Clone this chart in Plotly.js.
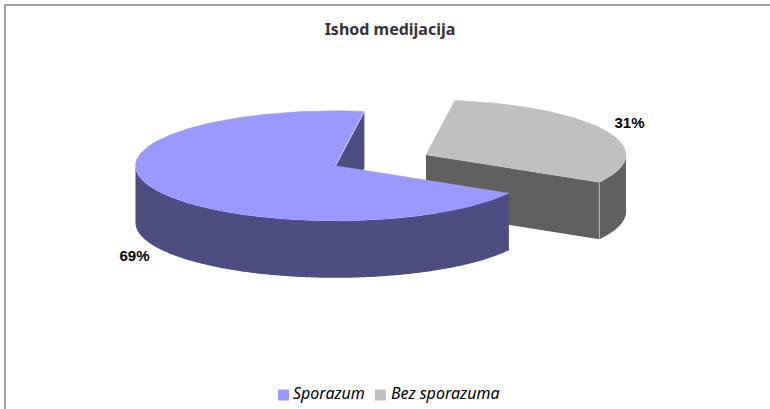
<!DOCTYPE html>
<html>
<head>
<meta charset="utf-8">
<script src="https://cdn.plot.ly/plotly-3.0.1.min.js"></script>
<style>html,body{margin:0;padding:0;background:#fff;}#chart{width:770px;height:409px;}</style>
</head>
<body>
<div id="chart"></div>
<script>
var categories = ['Sporazum', 'Bez sporazuma'];
var shares = [69, 31];
var labelTexts = ['69%', '31%'];
var topColors = ['#9999ff', '#c0c0c0'];
var sideColors = ['#4d4d80', '#606060'];

// 3-D look: projection constants of the exploded pie, in pixels
var RX = 200, RY = 55, DEPTH = 57, START = 8.3;
var centers = [[335.5, 165.8], [426, 154.8]];

var total = shares[0] + shares[1];
var gap = 360 * shares[1] / total;   // sweep of second slice
var angleB0 = START, angleB1 = START + gap;       // grey slice, clockwise from top
var angleA0 = angleB1, angleA1 = START + 360;     // violet slice

function pt(c, deg, dz) {
  var r = deg * Math.PI / 180;
  return [c[0] + RX * Math.sin(r), c[1] - RY * Math.cos(r) + (dz || 0)];
}
function arc(c, a0, a1, dz) {
  var out = [], n = Math.max(2, Math.ceil(Math.abs(a1 - a0)));
  for (var i = 0; i <= n; i++) out.push(pt(c, a0 + (a1 - a0) * i / n, dz));
  return out;
}
function poly(points, color, lineColor, lw) {
  var closed = points.concat([points[0]]);
  return {
    type: 'scatter', mode: lineColor ? 'lines' : 'none',
    x: closed.map(function (p) { return p[0]; }),
    y: closed.map(function (p) { return p[1]; }),
    fill: 'toself', fillcolor: color,
    line: { color: lineColor || color, width: lw || 0 },
    hoverinfo: 'skip', showlegend: false
  };
}
function seg(a, b, color) {
  return {
    type: 'scatter', mode: 'lines', x: [a[0], b[0]], y: [a[1], b[1]],
    line: { color: color, width: 0.7 }, hoverinfo: 'skip', showlegend: false
  };
}
function below(p) { return [p[0], p[1] + DEPTH]; }

var traces = [];
// grey slice
var cB = centers[1];
traces.push(poly([cB, pt(cB, angleB1), below(pt(cB, angleB1)), below(cB)], sideColors[1]));
traces.push(poly(arc(cB, 90, angleB1).concat(arc(cB, angleB1, 90, DEPTH)), sideColors[1]));
traces.push(seg(pt(cB, angleB1), below(pt(cB, angleB1)), '#c8c8c8'));
traces.push(poly([cB].concat(arc(cB, angleB0, angleB1)), topColors[1], topColors[1], 0.5));
// violet slice
var cA = centers[0];
traces.push(poly([cA, pt(cA, angleA1), below(pt(cA, angleA1)), below(cA)], sideColors[0]));
traces.push(poly(arc(cA, angleA0, 270).concat(arc(cA, 270, angleA0, DEPTH)), sideColors[0]));
traces.push(poly([cA].concat(arc(cA, angleA0, angleA1)), topColors[0], topColors[0], 0.5));
traces.push(seg(cA, pt(cA, angleA1), '#e6e6ff'));

// percentage labels
traces.push({
  type: 'scatter', mode: 'text', x: [134.5, 629.5], y: [257, 124], text: labelTexts,
  textposition: 'middle center',
  textfont: { family: 'Liberation Sans, Arial, sans-serif', size: 15, color: '#000', weight: 700 },
  hoverinfo: 'skip', showlegend: false
});
// legend keys and texts
traces.push({
  type: 'scatter', mode: 'markers', x: [283.5, 380.5], y: [395, 395],
  marker: { symbol: 'square', size: 11, color: topColors, line: { width: 0 } },
  hoverinfo: 'skip', showlegend: false
});
traces.push({
  type: 'scatter', mode: 'text', x: [293, 391], y: [395, 395], text: categories,
  textposition: 'middle right',
  textfont: { family: 'Noto Sans, sans-serif', size: 16, color: '#000', style: 'italic' },
  hoverinfo: 'skip', showlegend: false
});

var layout = {
  width: 770, height: 409,
  margin: { l: 0, r: 0, t: 0, b: 0 },
  paper_bgcolor: '#fff', plot_bgcolor: '#fff',
  showlegend: false,
  title: {
    text: '<b>Ishod medijacija</b>',
    font: { family: 'Noto Sans, sans-serif', size: 16, color: '#333' },
    x: 390 / 770, xanchor: 'center', y: 1 - 29 / 409, yanchor: 'middle'
  },
  xaxis: { range: [0, 770], visible: false, fixedrange: true },
  yaxis: { range: [409, 0], visible: false, fixedrange: true },
  shapes: [
    { type: 'line', xref: 'paper', yref: 'paper', x0: 5 / 770, x1: 5 / 770, y0: 0, y1: 1 - 4 / 409, line: { color: '#a0a0a0', width: 2 } },
    { type: 'line', xref: 'paper', yref: 'paper', x0: 4 / 770, x1: 1, y0: 1 - 5 / 409, y1: 1 - 5 / 409, line: { color: '#a0a0a0', width: 2 } }
  ]
};
Plotly.newPlot('chart', traces, layout, { displayModeBar: false, staticPlot: true });
</script>
</body>
</html>
